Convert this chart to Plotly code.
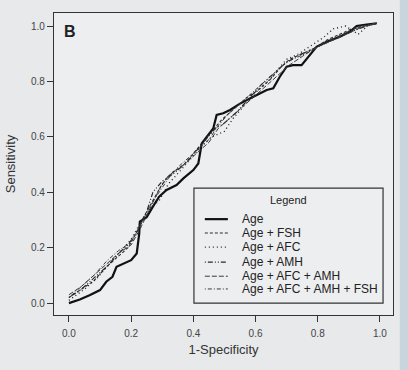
import plotly.graph_objects as go

# ---- Data ----
age_x = [0.0, 0.035, 0.068, 0.10, 0.12, 0.14, 0.153, 0.175, 0.20, 0.218, 0.226, 0.228, 0.25, 0.27, 0.29,
         0.314, 0.346, 0.368, 0.40, 0.416, 0.427, 0.443, 0.464, 0.475, 0.496, 0.518, 0.55, 0.593, 0.636,
         0.657, 0.678, 0.70, 0.72, 0.748, 0.77, 0.796, 0.829, 0.871, 0.904, 0.925, 0.957, 0.99]
age_y = [0.0, 0.013, 0.029, 0.047, 0.077, 0.095, 0.131, 0.143, 0.155, 0.179, 0.251, 0.294, 0.31, 0.348, 0.384,
         0.408, 0.426, 0.45, 0.48, 0.504, 0.576, 0.60, 0.63, 0.679, 0.685, 0.697, 0.72, 0.745, 0.769,
         0.775, 0.817, 0.853, 0.859, 0.859, 0.889, 0.925, 0.943, 0.961, 0.98, 1.0, 1.005, 1.01]

fsh_x = [0.0, 0.04, 0.08, 0.12, 0.16, 0.19, 0.215, 0.24, 0.27, 0.30, 0.33, 0.37, 0.40, 0.43, 0.46,
         0.49, 0.53, 0.57, 0.61, 0.65, 0.68, 0.71, 0.75, 0.79, 0.83, 0.87, 0.91, 0.95, 0.99]
fsh_y = [0.02, 0.05, 0.08, 0.13, 0.17, 0.20, 0.25, 0.31, 0.37, 0.43, 0.47, 0.50, 0.54, 0.58, 0.62,
         0.66, 0.70, 0.74, 0.77, 0.81, 0.85, 0.88, 0.90, 0.92, 0.95, 0.97, 0.99, 1.00, 1.01]

afc_x = [0.0, 0.05, 0.09, 0.13, 0.17, 0.20, 0.23, 0.26, 0.29, 0.32, 0.36, 0.40, 0.43, 0.46, 0.50,
         0.53, 0.56, 0.60, 0.64, 0.67, 0.70, 0.74, 0.78, 0.82, 0.85, 0.89, 0.93, 0.96, 0.99]
afc_y = [0.01, 0.05, 0.09, 0.14, 0.19, 0.23, 0.29, 0.34, 0.37, 0.43, 0.48, 0.53, 0.57, 0.60, 0.62,
         0.67, 0.71, 0.76, 0.80, 0.84, 0.88, 0.90, 0.93, 0.96, 0.99, 1.00, 0.97, 1.00, 1.01]

amh_x = [0.0, 0.04, 0.08, 0.12, 0.16, 0.19, 0.22, 0.25, 0.27, 0.30, 0.34, 0.38, 0.41, 0.44, 0.47,
         0.50, 0.54, 0.58, 0.62, 0.66, 0.69, 0.73, 0.77, 0.81, 0.85, 0.89, 0.93, 0.99]
amh_y = [0.02, 0.05, 0.09, 0.13, 0.18, 0.21, 0.26, 0.33, 0.40, 0.44, 0.47, 0.51, 0.55, 0.59, 0.63,
         0.65, 0.69, 0.74, 0.79, 0.83, 0.86, 0.89, 0.91, 0.93, 0.95, 0.97, 0.99, 1.01]

afc_amh_x = [0.0, 0.04, 0.08, 0.12, 0.16, 0.20, 0.23, 0.26, 0.29, 0.32, 0.36, 0.39, 0.42, 0.45, 0.48,
             0.52, 0.56, 0.60, 0.64, 0.68, 0.71, 0.75, 0.79, 0.83, 0.87, 0.91, 0.95, 0.99]
afc_amh_y = [0.03, 0.06, 0.10, 0.14, 0.18, 0.21, 0.27, 0.34, 0.41, 0.46, 0.49, 0.52, 0.55, 0.58, 0.63,
             0.67, 0.71, 0.75, 0.79, 0.83, 0.86, 0.89, 0.92, 0.94, 0.96, 0.98, 1.00, 1.01]

all_x = [0.0, 0.04, 0.08, 0.12, 0.16, 0.20, 0.23, 0.26, 0.29, 0.32, 0.35, 0.39, 0.42, 0.45, 0.48,
         0.51, 0.55, 0.59, 0.63, 0.67, 0.70, 0.74, 0.78, 0.82, 0.86, 0.90, 0.94, 0.99]
all_y = [0.02, 0.06, 0.10, 0.15, 0.19, 0.22, 0.28, 0.35, 0.40, 0.45, 0.49, 0.53, 0.56, 0.59, 0.64,
         0.68, 0.72, 0.76, 0.80, 0.84, 0.87, 0.89, 0.91, 0.94, 0.96, 0.98, 1.00, 1.01]

series_names = ["Age", "Age + FSH", "Age + AFC", "Age + AMH", "Age + AFC + AMH", "Age + AFC + AMH + FSH"]
series_x = [age_x, fsh_x, afc_x, amh_x, afc_amh_x, all_x]
series_y = [age_y, fsh_y, afc_y, amh_y, afc_amh_y, all_y]

tick_vals = [0.0, 0.2, 0.4, 0.6, 0.8, 1.0]
tick_text = ["0.0", "0.2", "0.4", "0.6", "0.8", "1.0"]

# styles
dashes = ["solid", "3px,2px", "1px,3px", "1px,2px,5px,2px,1px,2px", "5px,2px", "1px,2px,4px,2px"]
widths = [2.2, 1.1, 1.4, 1.2, 1.0, 1.0]
colors = ["#111111", "#2a2a2a", "#222222", "#2a2a2a", "#3a3a3a", "#3a3a3a"]

fig = go.Figure()
for name, xs, ys, d, w, c in zip(series_names, series_x, series_y, dashes, widths, colors):
    fig.add_trace(go.Scatter(x=xs, y=ys, mode="lines", name=name, showlegend=False,
                             line=dict(color=c, width=w, dash=d)))

axis_common = dict(
    showline=True, linecolor="#333333", linewidth=1.2, mirror=True,
    ticks="outside", ticklen=6, tickcolor="#333333", tickwidth=1,
    showgrid=False, zeroline=False, automargin=False,
    tickvals=tick_vals, ticktext=tick_text,
    tickfont=dict(family="Liberation Sans, Arial", size=10, color="#444444"),
)

# ---- legend box drawn in data coordinates (box region of the reference) ----
lg_x0, lg_x1, lg_y0, lg_y1 = 0.402, 1.010, 0.0, 0.415
lg_title_y = 0.372
lg_item_y = [0.303, 0.253, 0.202, 0.148, 0.097, 0.051]
lg_line_x0, lg_line_x1, lg_text_x = 0.437, 0.511, 0.55

shapes = [
    dict(type="rect", xref="paper", yref="paper", x0=1.02, x1=1.1, y0=-0.2, y1=1.1,
         fillcolor="#c9d5dd", line=dict(width=0), layer="below"),
    dict(type="rect", xref="x", yref="y", x0=lg_x0, x1=lg_x1, y0=lg_y0, y1=lg_y1,
         fillcolor="#eceef0", line=dict(color="#333333", width=1.2), layer="above"),
]
annotations = [
    dict(text="<b>B</b>", x=0.025, y=0.975, xref="paper", yref="paper",
         xanchor="left", yanchor="top", showarrow=False,
         font=dict(size=16, color="#222222")),
    dict(text="Legend", x=(lg_x0 + lg_x1) / 2, y=lg_title_y, xref="x", yref="y",
         xanchor="center", yanchor="middle", showarrow=False,
         font=dict(size=11, color="#222222")),
]
for name, yy, d, w, c in zip(series_names, lg_item_y, dashes, widths, colors):
    shapes.append(dict(type="line", xref="x", yref="y", x0=lg_line_x0, x1=lg_line_x1, y0=yy, y1=yy,
                       line=dict(color=c, width=w, dash=d), layer="above"))
    annotations.append(dict(text=name, x=lg_text_x, y=yy, xref="x", yref="y",
                            xanchor="left", yanchor="middle", showarrow=False,
                            font=dict(size=12, color="#222222")))

fig.update_layout(
    width=408, height=370,
    margin=dict(l=54, r=15, t=13, b=55, autoexpand=False),
    paper_bgcolor="#e7e9eb",
    plot_bgcolor="#eceef0",
    font=dict(family="Liberation Sans, Arial", color="#333333"),
    xaxis=dict(range=[-0.048, 1.042], ticklabelstandoff=3,
               title=dict(text="1-Specificity", font=dict(size=13, color="#333333"), standoff=6),
               **axis_common),
    yaxis=dict(range=[-0.043, 1.047],
               title=dict(text="Sensitivity", font=dict(size=13, color="#333333"), standoff=12),
               **axis_common),
    showlegend=False,
    annotations=annotations,
    shapes=shapes,
)

fig.write_html(
    "out.html",
    config={"displayModeBar": False},
    post_script="document.body.style.margin='0';document.body.style.background='#e7e9eb';"
                "document.body.style.overflow='hidden';",
)
